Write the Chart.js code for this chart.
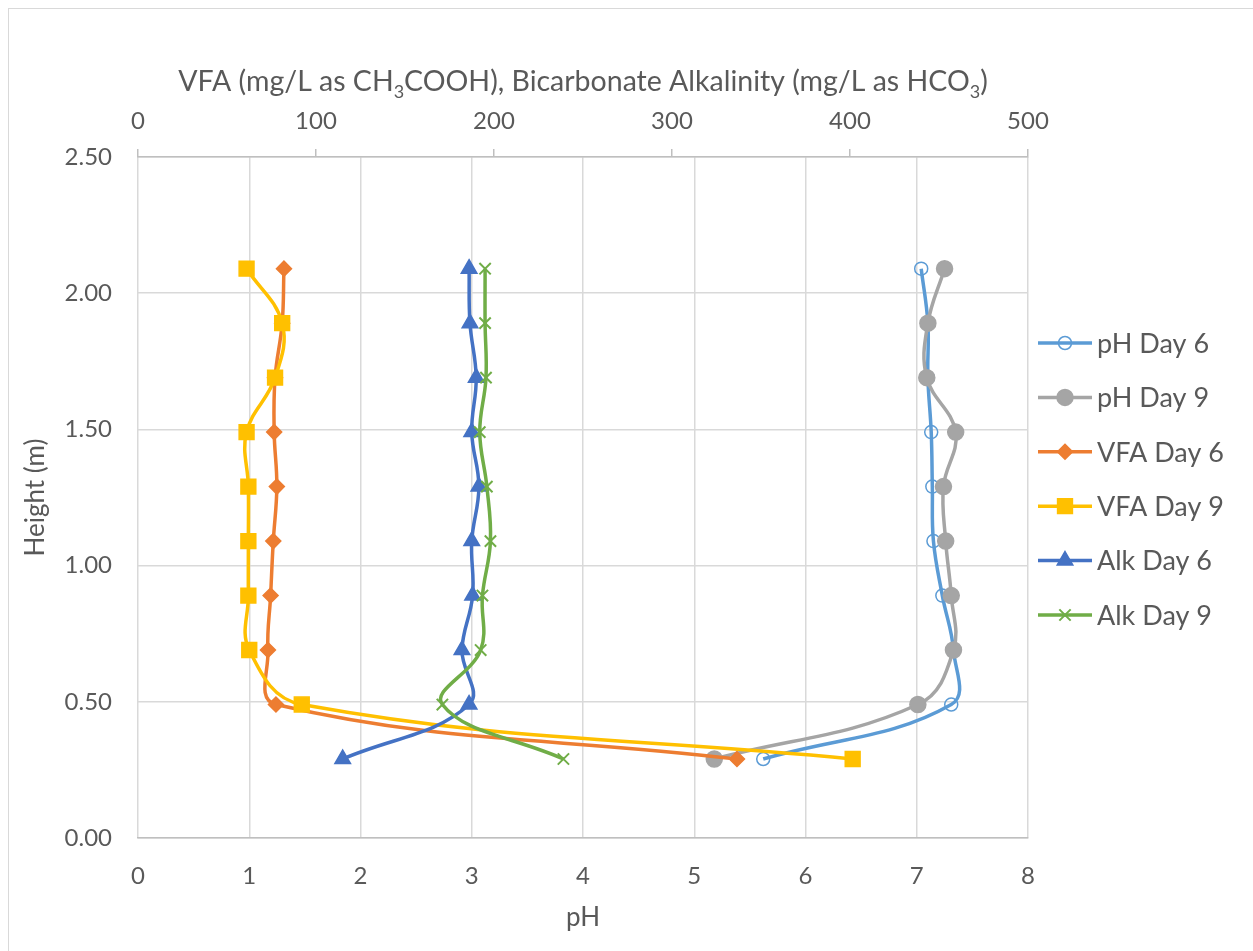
<!DOCTYPE html>
<html>
<head>
<meta charset="utf-8">
<script src="https://cdn.jsdelivr.net/npm/chart.js@4.4.1/dist/chart.umd.min.js"></script>
<style>
html, body { margin: 0; padding: 0; background: #fff; }
#wrap { width: 1253px; height: 951px; position: relative; }
</style>
</head>
<body>
<div id="wrap"><canvas id="myChart"></canvas></div>
<script>
// sampling heights (m), top of column down
const heights = [2.09, 1.89, 1.69, 1.49, 1.29, 1.09, 0.89, 0.69, 0.49, 0.29];

const phDay6 = [7.04, 7.10, 7.10, 7.13, 7.14, 7.15, 7.23, 7.33, 7.31, 5.62];
const phDay9 = [7.25, 7.10, 7.09, 7.35, 7.24, 7.26, 7.31, 7.33, 7.01, 5.18];
const vfaDay6 = [82, 81, 77, 76.5, 78, 76, 74.5, 73, 77.5, 336.5];
const vfaDay9 = [61, 81, 77, 61, 62, 62, 62, 62.5, 92, 401.5];
const alkDay6 = [186, 186.5, 190, 187.5, 191.5, 187.5, 188, 182, 186, 115];
const alkDay9 = [195, 195, 195.5, 192, 196, 198, 193.5, 192.5, 171, 239];

const phTicks = [0, 1, 2, 3, 4, 5, 6, 7, 8];
const concTicks = [0, 100, 200, 300, 400, 500];
const heightTicks = [0, 0.5, 1, 1.5, 2, 2.5];

const FONT = 'Lato, "Open Sans", sans-serif';
const GREY_TEXT = '#595959';

function pts(xs) {
    return xs.map((v, i) => ({ x: v, y: heights[i] }));
}

function series(label, values, axis, color, style, radius, fill) {
    return {
        label: label,
        data: pts(values),
        xAxisID: axis,
        showLine: true,
        borderColor: color,
        borderWidth: 3.5,
        tension: 0.4,
        pointStyle: style,
        pointRadius: radius,
        pointHoverRadius: radius,
        pointBorderColor: color,
        pointBackgroundColor: fill,
        pointBorderWidth: style === 'crossRot' ? 2 : 1.5
    };
}

const datasets = [
    series('pH Day 6', phDay6, 'x', '#5B9BD5', 'circle', 6.5, 'rgba(0,0,0,0)'),
    series('pH Day 9', phDay9, 'x', '#A5A5A5', 'circle', 8, '#A5A5A5'),
    series('VFA Day 6', vfaDay6, 'x2', '#ED7D31', 'rectRot', 7.5, '#ED7D31'),
    series('VFA Day 9', vfaDay9, 'x2', '#FFC000', 'rect', 10.5, '#FFC000'),
    series('Alk Day 6', alkDay6, 'x2', '#4472C4', 'triangle', 9, '#4472C4'),
    series('Alk Day 9', alkDay9, 'x2', '#70AD47', 'crossRot', 8, '#70AD47')
];
// later series sit on top of earlier ones
datasets.forEach((d, i) => { d.order = datasets.length - i; });

// outer frame + title with subscripts + side legend
const extras = {
    id: 'extras',
    afterDraw(chart) {
        const ctx = chart.ctx;
        const area = chart.chartArea;
        ctx.save();

        ctx.strokeStyle = '#d9d9d9';
        ctx.lineWidth = 1;
        ctx.strokeRect(8.5, 8.5, 1260, 960);

        // top axis title
        const parts = [
            ['VFA (mg/L as CH', false], ['3', true], ['COOH), Bicarbonate Alkalinity (mg/L as HCO', false], ['3', true], [')', false]
        ];
        const big = '28.5px ' + FONT, small = '18px ' + FONT;
        let total = 0;
        parts.forEach(p => { ctx.font = p[1] ? small : big; total += ctx.measureText(p[0]).width; });
        let x = (area.left + area.right) / 2 - total / 2;
        const y = 91;
        ctx.fillStyle = GREY_TEXT;
        ctx.textBaseline = 'alphabetic';
        ctx.textAlign = 'left';
        parts.forEach(p => {
            ctx.font = p[1] ? small : big;
            ctx.fillText(p[0], x, p[1] ? y + 7 : y);
            x += ctx.measureText(p[0]).width;
        });

        // legend
        const lx0 = 1038, lx1 = 1092, tx = 1097;
        chart.data.datasets.forEach((d, i) => {
            const ly = 343 + i * 54.4;
            ctx.strokeStyle = d.borderColor;
            ctx.lineWidth = 3.5;
            ctx.beginPath();
            ctx.moveTo(lx0, ly);
            ctx.lineTo(lx1, ly);
            ctx.stroke();
            ctx.fillStyle = d.pointBackgroundColor;
            ctx.strokeStyle = d.pointBorderColor;
            ctx.lineWidth = d.pointBorderWidth;
            Chart.helpers.drawPoint(ctx, {
                pointStyle: d.pointStyle,
                radius: d.pointRadius,
                rotation: 0,
                borderWidth: d.pointBorderWidth
            }, (lx0 + lx1) / 2, ly);
            ctx.fillStyle = GREY_TEXT;
            ctx.font = '27px ' + FONT;
            ctx.textBaseline = 'middle';
            ctx.fillText(d.label, tx, ly + 1);
        });
        ctx.restore();
    }
};

new Chart(document.getElementById('myChart'), {
    type: 'scatter',
    data: { datasets: datasets },
    plugins: [extras],
    options: {
        responsive: true,
        maintainAspectRatio: false,
        animation: false,
        layout: { padding: { left: 0, right: 225, top: 0, bottom: 0 } },
        plugins: {
            legend: { display: false },
            tooltip: { enabled: false }
        },
        scales: {
            x: {
                type: 'linear',
                position: 'bottom',
                min: 0,
                max: 8,
                afterBuildTicks: s => { s.ticks = phTicks.map(v => ({ value: v })); },
                ticks: { color: GREY_TEXT, font: { family: FONT, size: 24 }, padding: 24 },
                grid: { color: '#d9d9d9', lineWidth: 1.5, drawTicks: false },
                border: { color: '#bfbfbf', width: 1.5 },
                title: { display: true, text: 'pH', color: GREY_TEXT, font: { family: FONT, size: 26 }, padding: { top: 4, bottom: 18 } },
                afterFit: s => { s.height = 113; }
            },
            x2: {
                type: 'linear',
                position: 'top',
                min: 0,
                max: 500,
                afterBuildTicks: s => { s.ticks = concTicks.map(v => ({ value: v })); },
                ticks: { color: GREY_TEXT, font: { family: FONT, size: 24 }, padding: 13 },
                grid: { drawOnChartArea: false, color: '#bfbfbf', lineWidth: 1.5, tickLength: 8 },
                border: { color: '#bfbfbf', width: 1.5 },
                afterFit: s => { s.height = 157; }
            },
            y: {
                type: 'linear',
                min: 0,
                max: 2.5,
                afterBuildTicks: s => { s.ticks = heightTicks.map(v => ({ value: v })); },
                ticks: { color: GREY_TEXT, font: { family: FONT, size: 24 }, padding: 26, callback: v => v.toFixed(2) },
                grid: { color: '#d9d9d9', lineWidth: 1.5, drawTicks: false },
                border: { display: false },
                title: { display: true, text: 'Height (m)', color: GREY_TEXT, font: { family: FONT, size: 26 }, padding: { top: 20 } },
                afterFit: s => { s.width = 138; }
            }
        }
    }
});
</script>
</body>
</html>
